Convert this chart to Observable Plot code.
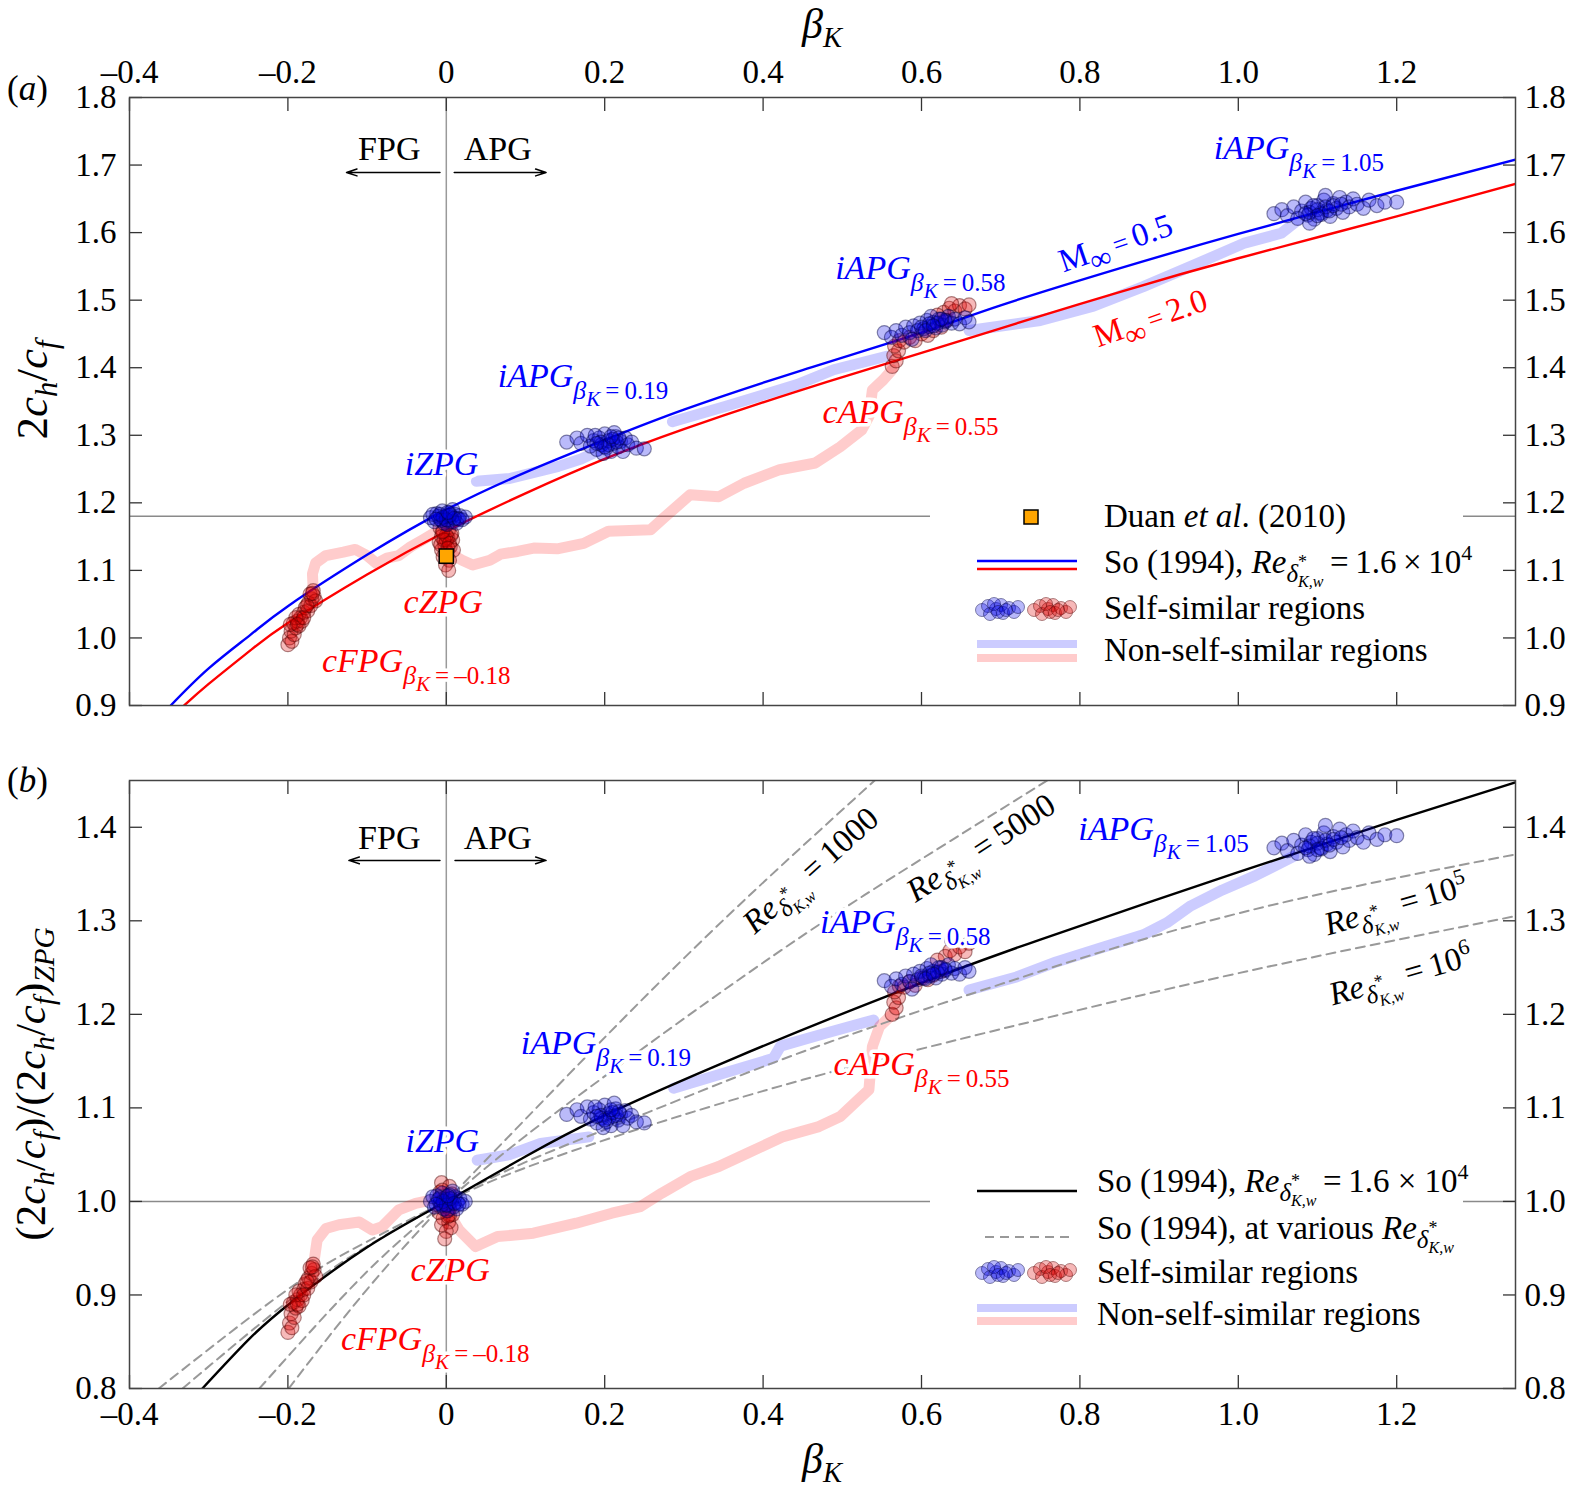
<!DOCTYPE html>
<html>
<head>
<meta charset="utf-8">
<script src="https://cdn.jsdelivr.net/npm/d3@7"></script>
<script src="https://cdn.jsdelivr.net/npm/@observablehq/plot@0.6"></script>
<style>
body { margin: 0; background: #fff; }
#fig { position: relative; width: 1570px; height: 1491px; font-family: "Liberation Serif", serif; color: #000; background: #fff; }
.abs { position: absolute; white-space: nowrap; line-height: 1; }
.abs sub { font-size: 0.68em; vertical-align: -0.32em; }
.rot { transform: translate(-50%, -50%) rotate(-90deg); }
.ctr { transform: translate(-50%, -50%); }
</style>
</head>
<body>
<div id="fig">
  <div id="chartA" class="abs" style="left:0;top:0"></div>
  <div id="chartB" class="abs" style="left:0;top:745px"></div>
  <div class="abs" style="left:7px;top:71px;font-size:35px">(<i>a</i>)</div>
  <div class="abs" style="left:7px;top:763px;font-size:35px">(<i>b</i>)</div>
  <div class="abs ctr" style="left:822px;top:28px;font-size:42px"><i>β</i><sub><i>K</i></sub></div>
  <div class="abs ctr" style="left:822px;top:1463px;font-size:42px"><i>β</i><sub><i>K</i></sub></div>
  <div class="abs rot" style="left:36px;top:390px;font-size:45px">2<i>c</i><sub><i>h</i></sub>/<i>c</i><sub><i>f</i></sub></div>
  <div class="abs rot" style="left:34px;top:1084px;font-size:43px">(2<i>c</i><sub><i>h</i></sub>/<i>c</i><sub><i>f</i></sub>)/(2<i>c</i><sub><i>h</i></sub>/<i>c</i><sub><i>f</i></sub>)<sub><i>ZPG</i></sub></div>
</div>
<script>
// ---------- axes ----------
const xTicks = [-0.4, -0.2, 0, 0.2, 0.4, 0.6, 0.8, 1.0, 1.2]
const yTicksA = [0.9, 1.0, 1.1, 1.2, 1.3, 1.4, 1.5, 1.6, 1.7, 1.8]
const yTicksB = [0.8, 0.9, 1.0, 1.1, 1.2, 1.3, 1.4]
const zpgA = 1.18
const zpgB = 1.0

// ---------- So (1994) curves ----------
const soBlueA = [[-0.348,0.90],[-0.3,0.955],[-0.247,1.005],[-0.2,1.047],[-0.1,1.123],[0,1.19],[0.1,1.245],[0.2,1.293],[0.3,1.338],[0.443,1.394],[0.6,1.452],[0.699,1.492],[0.85,1.547],[1.0,1.598],[1.2,1.662],[1.35,1.708]]
const soRedA = [[-0.331,0.90],[-0.3,0.932],[-0.247,0.982],[-0.2,1.022],[-0.1,1.094],[0,1.158],[0.1,1.214],[0.2,1.265],[0.3,1.309],[0.443,1.365],[0.6,1.422],[0.699,1.458],[0.85,1.512],[1.0,1.562],[1.2,1.624],[1.35,1.672]]
const soBlackB = [[-0.308,0.8],[-0.25,0.852],[-0.196,0.892],[-0.1,0.951],[0,1.0],[0.1,1.048],[0.2,1.092],[0.363,1.153],[0.555,1.219],[0.75,1.28],[1.0,1.352],[1.2,1.408],[1.35,1.448]]
const soRe1000B = [[-0.199,0.8],[-0.1,0.906],[0,1.0],[0.1,1.088],[0.23,1.201],[0.38,1.325],[0.55,1.457]]
const soRe5000B = [[-0.236,0.8],[-0.1,0.925],[0,1.0],[0.1,1.07],[0.283,1.185],[0.455,1.287],[0.6,1.366],[0.77,1.456]]
const soRe1e5B = [[-0.333,0.8],[-0.2,0.893],[-0.1,0.952],[0,1.0],[0.1,1.042],[0.254,1.095],[0.45,1.16],[0.699,1.232],[1.0,1.308],[1.35,1.371]]
const soRe1e6B = [[-0.363,0.8],[-0.2,0.906],[-0.1,0.957],[0,1.0],[0.1,1.036],[0.245,1.078],[0.45,1.13],[0.699,1.184],[1.0,1.244],[1.35,1.305]]

// ---------- self-similar clusters (panel a) ----------
const iZpgA = [[-0.02,1.178],[-0.015,1.172],[-0.012,1.184],[-0.008,1.176],[-0.005,1.188],[-0.003,1.17],[0,1.18],[0.002,1.174],[0.004,1.185],[0.006,1.178],[0.009,1.172],[0.011,1.183],[0.014,1.177],[0.017,1.181],[0.02,1.175],[-0.01,1.18],[0.001,1.168],[0.008,1.19],[-0.017,1.183],[0.013,1.17],[0.024,1.179],[-0.006,1.174],[0.003,1.181],[-0.004,1.179],[0.0,1.175],[0.005,1.182],[-0.008,1.183],[0.01,1.177],[-0.013,1.176],[0.016,1.176],[0.002,1.186]]
const cZpgA = [[-0.008,1.163],[-0.004,1.158],[0.003,1.16],[0.007,1.155],[-0.006,1.15],[0.002,1.148],[0.008,1.145],[-0.009,1.142],[-0.002,1.138],[0.005,1.135],[-0.006,1.13],[0.001,1.127],[0.009,1.13],[-0.004,1.12],[0.004,1.115],[-0.001,1.108],[0.003,1.1],[-0.007,1.138],[0.006,1.152],[0,1.145],[0,1.152],[-0.003,1.145],[0.004,1.14],[-0.005,1.157],[0.002,1.133]]
const cFpgA = [[-0.2,0.99],[-0.198,1.0],[-0.195,0.995],[-0.196,1.01],[-0.192,1.005],[-0.19,1.015],[-0.193,1.022],[-0.188,1.025],[-0.186,1.018],[-0.184,1.03],[-0.182,1.025],[-0.186,1.035],[-0.18,1.038],[-0.178,1.045],[-0.175,1.04],[-0.174,1.052],[-0.171,1.048],[-0.17,1.058],[-0.167,1.062],[-0.168,1.07],[-0.165,1.055],[-0.172,1.065],[-0.19,1.03],[-0.197,1.02],[-0.188,1.02],[-0.18,1.03],[-0.176,1.048],[-0.169,1.066]]
const iApg019A = [[0.152,1.29],[0.165,1.296],[0.17,1.288],[0.178,1.3],[0.182,1.284],[0.186,1.292],[0.19,1.279],[0.193,1.296],[0.196,1.286],[0.2,1.302],[0.202,1.281],[0.205,1.292],[0.208,1.276],[0.211,1.288],[0.214,1.298],[0.217,1.283],[0.22,1.291],[0.223,1.276],[0.226,1.296],[0.229,1.286],[0.234,1.29],[0.24,1.281],[0.25,1.28],[0.198,1.273],[0.188,1.3],[0.212,1.304],[0.195,1.29],[0.205,1.286],[0.21,1.294],[0.2,1.283],[0.215,1.29],[0.19,1.288],[0.218,1.296],[0.208,1.298]]
const iApg058A = [[0.553,1.452],[0.562,1.445],[0.568,1.455],[0.575,1.448],[0.58,1.46],[0.585,1.452],[0.59,1.462],[0.595,1.455],[0.598,1.466],[0.603,1.458],[0.607,1.47],[0.61,1.461],[0.615,1.467],[0.618,1.459],[0.622,1.472],[0.626,1.463],[0.63,1.468],[0.634,1.476],[0.638,1.466],[0.642,1.472],[0.648,1.465],[0.655,1.474],[0.66,1.468],[0.588,1.442],[0.612,1.476],[0.6,1.46],[0.61,1.465],[0.62,1.466],[0.63,1.47],[0.605,1.455],[0.625,1.472],[0.615,1.462]]
const cApg055A = [[0.563,1.402],[0.568,1.41],[0.565,1.418],[0.571,1.425],[0.566,1.432],[0.572,1.44],[0.578,1.438],[0.585,1.445],[0.592,1.44],[0.6,1.45],[0.608,1.448],[0.615,1.455],[0.625,1.46],[0.632,1.47],[0.628,1.482],[0.635,1.488],[0.642,1.484],[0.648,1.492],[0.655,1.487],[0.66,1.493],[0.638,1.495],[0.62,1.478]]
const iApg105A = [[1.045,1.628],[1.055,1.634],[1.062,1.625],[1.07,1.638],[1.075,1.621],[1.08,1.632],[1.085,1.645],[1.088,1.626],[1.092,1.636],[1.096,1.62],[1.1,1.64],[1.104,1.629],[1.108,1.648],[1.112,1.633],[1.116,1.624],[1.12,1.643],[1.124,1.636],[1.128,1.652],[1.132,1.63],[1.136,1.645],[1.14,1.638],[1.145,1.65],[1.15,1.642],[1.158,1.636],[1.165,1.648],[1.175,1.64],[1.185,1.645],[1.2,1.645],[1.09,1.614],[1.11,1.655],[1.09,1.63],[1.1,1.634],[1.105,1.627],[1.11,1.638],[1.095,1.64],[1.115,1.632],[1.1,1.625],[1.12,1.64],[1.13,1.642],[1.085,1.628]]
const duanA = [[0.0, 1.121]]

// ---------- self-similar clusters (panel b) ----------
const iZpgB = [[-0.02,1.0],[-0.015,0.994],[-0.012,1.006],[-0.008,0.998],[-0.005,1.009],[-0.003,0.992],[0,1.002],[0.002,0.996],[0.004,1.007],[0.006,1.0],[0.009,0.994],[0.011,1.005],[0.014,0.999],[0.017,1.003],[0.02,0.997],[-0.01,1.002],[0.001,0.99],[0.008,1.011],[-0.017,1.005],[0.013,0.992],[0.024,1.0],[-0.006,0.996],[-0.004,1.0],[0.0,0.996],[0.005,1.003],[-0.008,1.004],[0.01,0.998],[-0.013,0.997],[0.016,0.997],[0.002,1.006]]
const cZpgB = [[-0.006,1.02],[0.004,1.016],[-0.008,1.01],[0.007,1.008],[-0.003,1.003],[0.005,0.998],[-0.007,0.994],[0.002,0.99],[0.008,0.986],[-0.004,0.982],[0.003,0.978],[-0.006,0.975],[0.006,0.972],[0,0.968],[-0.002,0.96],[0.004,0.985],[-0.009,0.988],[0,1.005],[-0.003,0.998],[0.004,0.992],[-0.005,1.012],[0.002,0.984]]
const cFpgB = [[-0.2,0.86],[-0.198,0.87],[-0.195,0.865],[-0.196,0.88],[-0.192,0.876],[-0.19,0.886],[-0.193,0.892],[-0.188,0.895],[-0.186,0.888],[-0.184,0.9],[-0.182,0.894],[-0.186,0.904],[-0.18,0.906],[-0.178,0.912],[-0.175,0.907],[-0.174,0.918],[-0.171,0.914],[-0.17,0.923],[-0.167,0.927],[-0.168,0.933],[-0.165,0.92],[-0.172,0.929],[-0.19,0.9],[-0.197,0.89],[-0.188,0.89],[-0.18,0.9],[-0.176,0.915],[-0.169,0.93]]
const iApg019B = [[0.152,1.093],[0.165,1.098],[0.17,1.091],[0.178,1.101],[0.182,1.088],[0.186,1.095],[0.19,1.084],[0.193,1.098],[0.196,1.089],[0.2,1.103],[0.202,1.085],[0.205,1.094],[0.208,1.081],[0.211,1.091],[0.214,1.099],[0.217,1.087],[0.22,1.093],[0.223,1.081],[0.226,1.097],[0.229,1.089],[0.234,1.092],[0.24,1.085],[0.25,1.084],[0.198,1.079],[0.188,1.101],[0.212,1.105],[0.195,1.092],[0.205,1.089],[0.21,1.095],[0.2,1.087],[0.215,1.092],[0.19,1.091],[0.218,1.096],[0.208,1.098]]
const iApg058B = [[0.553,1.236],[0.562,1.23],[0.568,1.238],[0.575,1.232],[0.58,1.241],[0.585,1.235],[0.59,1.243],[0.595,1.237],[0.598,1.246],[0.603,1.239],[0.607,1.249],[0.61,1.241],[0.615,1.246],[0.618,1.239],[0.622,1.25],[0.626,1.243],[0.63,1.247],[0.634,1.253],[0.638,1.244],[0.642,1.249],[0.648,1.243],[0.655,1.25],[0.66,1.246],[0.588,1.227],[0.612,1.253],[0.6,1.241],[0.61,1.244],[0.62,1.245],[0.63,1.248],[0.605,1.238],[0.625,1.25],[0.615,1.243]]
const cApg055B = [[0.563,1.2],[0.568,1.207],[0.565,1.213],[0.571,1.218],[0.566,1.224],[0.572,1.23],[0.578,1.229],[0.585,1.235],[0.592,1.231],[0.6,1.239],[0.608,1.237],[0.615,1.242],[0.625,1.246],[0.63,1.262],[0.636,1.268],[0.642,1.264],[0.648,1.272],[0.655,1.267],[0.66,1.276],[0.638,1.279],[0.62,1.258]]
const iApg105B = [[1.045,1.378],[1.055,1.383],[1.062,1.375],[1.07,1.386],[1.075,1.372],[1.08,1.381],[1.085,1.392],[1.088,1.376],[1.092,1.384],[1.096,1.371],[1.1,1.388],[1.104,1.378],[1.108,1.394],[1.112,1.382],[1.116,1.374],[1.12,1.39],[1.124,1.384],[1.128,1.398],[1.132,1.379],[1.136,1.392],[1.14,1.386],[1.145,1.396],[1.15,1.389],[1.158,1.384],[1.165,1.394],[1.175,1.387],[1.185,1.392],[1.2,1.391],[1.09,1.369],[1.11,1.402],[1.09,1.38],[1.1,1.383],[1.105,1.377],[1.11,1.386],[1.095,1.388],[1.115,1.381],[1.1,1.376],[1.12,1.387],[1.13,1.389],[1.085,1.378]]

// ---------- non-self-similar trajectories ----------
const iTrajA1 = [[0.038,1.232],[0.08,1.236],[0.1416,1.254],[0.17,1.265],[0.196,1.279]]
const iTrajA2 = [[0.2855,1.32],[0.353,1.343],[0.443,1.375],[0.489,1.397],[0.556,1.417]]
const iTrajA3 = [[0.66,1.455],[0.75,1.47],[0.817,1.491],[0.88,1.52],[0.94,1.55],[1.0065,1.584],[1.054,1.599],[1.076,1.619]]
const cTrajA1 = [[-0.168,1.07],[-0.169,1.095],[-0.165,1.111],[-0.152,1.122],[-0.13,1.127],[-0.115,1.131],[-0.1,1.122],[-0.088,1.11],[-0.075,1.118],[-0.06,1.122],[-0.045,1.135],[-0.03,1.145],[-0.0156,1.155],[-0.005,1.16]]
const cTrajA2 = [[0.005,1.125],[0.02,1.115],[0.0333,1.108],[0.055,1.115],[0.0685,1.124],[0.09,1.128],[0.1105,1.133],[0.14,1.132],[0.1736,1.14],[0.2047,1.158],[0.2578,1.16],[0.2767,1.18],[0.308,1.212],[0.344,1.209],[0.376,1.229],[0.421,1.249],[0.466,1.259],[0.4975,1.283],[0.5246,1.308],[0.5336,1.328],[0.538,1.367],[0.5517,1.382],[0.563,1.397]]
const iTrajB1 = [[0.039,1.044],[0.08,1.05],[0.119,1.062],[0.18,1.069]]
const iTrajB2 = [[0.287,1.121],[0.35,1.137],[0.413,1.153],[0.422,1.166],[0.48,1.18],[0.5395,1.194]]
const iTrajB3 = [[0.66,1.226],[0.72,1.24],[0.77,1.256],[0.83,1.272],[0.88,1.285],[0.91,1.298],[0.94,1.316],[0.98,1.333],[1.021,1.348],[1.07,1.369]]
const cTrajB1 = [[-0.168,0.93],[-0.163,0.959],[-0.152,0.971],[-0.1355,0.975],[-0.11,0.978],[-0.0934,0.9695],[-0.081,0.973],[-0.06,0.991],[-0.0387,0.998],[-0.0177,1.0016]]
const cTrajB2 = [[0.005,0.985],[0.016,0.9695],[0.037,0.9517],[0.0647,0.9624],[0.11,0.966],[0.164,0.9767],[0.209,0.9874],[0.245,0.9945],[0.272,1.0088],[0.308,1.0265],[0.344,1.0373],[0.38,1.0516],[0.4255,1.0693],[0.4705,1.08],[0.4975,1.0907],[0.52,1.1086],[0.5336,1.1193],[0.538,1.1656],[0.547,1.187],[0.565,1.2014]]

// ---------- annotations ----------
const BLUE = "#0000ff", RED = "#ff0000"
const subLabelsA = [
  {k: "iAPG105", x: 0.969, y: 1.725, c: BLUE},
  {k: "iAPG058", x: 0.491, y: 1.547, c: BLUE},
  {k: "iAPG019", x: 0.065, y: 1.388, c: BLUE},
  {k: "cAPG055", x: 0.475, y: 1.334, c: RED},
  {k: "cFPG018", x: -0.157, y: 0.965, c: RED}
]
const plainLabelsA = [
  {k: "iZPG", x: -0.006, y: 1.258, c: BLUE},
  {k: "cZPG", x: -0.004, y: 1.053, c: RED}
]
const machLabelsA = [
  {k: "M05", x: 0.845, y: 1.584, c: BLUE},
  {k: "M20", x: 0.889, y: 1.473, c: RED}
]
const subLabelsB = [
  {k: "iAPG105", x: 0.798, y: 1.398, c: BLUE},
  {k: "iAPG058", x: 0.472, y: 1.299, c: BLUE},
  {k: "iAPG019", x: 0.094, y: 1.169, c: BLUE},
  {k: "cAPG055", x: 0.489, y: 1.147, c: RED},
  {k: "cFPG018", x: -0.133, y: 0.853, c: RED}
]
const plainLabelsB = [
  {k: "iZPG", x: -0.005, y: 1.065, c: BLUE},
  {k: "cZPG", x: 0.005, y: 0.9265, c: RED}
]
const reLabelsB = [
  {k: "Re1000", x: 0.46, y: 1.354, r: -42},
  {k: "Re5000", x: 0.675, y: 1.378, r: -33},
  {k: "Re1e5", x: 1.199, y: 1.317, r: -16},
  {k: "Re1e6", x: 1.205, y: 1.242, r: -16}
]
const gradTextA = [{k: "FPG", x: -0.072, y: 1.723}, {k: "APG", x: 0.065, y: 1.723}]
const gradArrowsA = [{x1: -0.008, x2: -0.126, y: 1.689}, {x1: 0.01, x2: 0.126, y: 1.689}]
const gradTextB = [{k: "FPG", x: -0.072, y: 1.3885}, {k: "APG", x: 0.065, y: 1.3885}]
const gradArrowsB = [{x1: -0.008, x2: -0.123, y: 1.3646}, {x1: 0.011, x2: 0.126, y: 1.3646}]

// rich text (subscripts) put into Plot's text nodes afterwards
const bk = v => `<tspan font-size="26" dy="12">β</tspan><tspan font-size="21" dy="7">K</tspan><tspan font-style="normal" font-size="25" dy="-7">\u2009=\u2009${v}</tspan>`
const RE = `<tspan font-style="italic">Re</tspan><tspan font-style="italic" font-size="25" dy="9">δ</tspan><tspan font-size="18" dy="-14">*</tspan><tspan font-style="italic" font-size="16" dx="-9" dy="19">K,w</tspan>`
const RICH = {
  iAPG105: "iAPG" + bk("1.05"),
  iAPG058: "iAPG" + bk("0.58"),
  iAPG019: "iAPG" + bk("0.19"),
  cAPG055: "cAPG" + bk("0.55"),
  cFPG018: "cFPG" + bk("\u20130.18"),
  M05: `M<tspan font-size="30" dy="9">∞</tspan><tspan font-size="27" dy="-9">\u2009=\u2009</tspan>0.5`,
  M20: `M<tspan font-size="30" dy="9">∞</tspan><tspan font-size="27" dy="-9">\u2009=\u2009</tspan>2.0`,
  Re1000: RE + `<tspan dy="-14">\u2009=\u20091000</tspan>`,
  Re5000: RE + `<tspan dy="-14">\u2009=\u20095000</tspan>`,
  Re1e5: RE + `<tspan dy="-14">\u2009=\u200910</tspan><tspan font-size="22" dy="-13">5</tspan>`,
  Re1e6: RE + `<tspan dy="-14">\u2009=\u200910</tspan><tspan font-size="22" dy="-13">6</tspan>`
}

const fmtX = d => d === 0 ? "0" : (d < 0 ? "\u2013" : "") + d3.format(".1f")(Math.abs(d))
const fmtY = d3.format(".1f")
const X = d => d[0], Y = d => d[1]

function frameAxes(yTicks, labelSide) {
  const tk = {stroke: "#333", strokeWidth: 1.3, fill: "none", label: null, tickSize: 13}
  return [
    Plot.axisX({...tk, anchor: "top", ticks: xTicks, dy: 13}),
    Plot.axisX({...tk, anchor: "bottom", ticks: xTicks, dy: -13}),
    Plot.axisY({...tk, anchor: "left", ticks: yTicks, dx: 13}),
    Plot.axisY({...tk, anchor: "right", ticks: yTicks, dx: -13}),
    Plot.axisX({anchor: labelSide, ticks: xTicks, tickSize: 0, tickPadding: labelSide === "top" ? 15 : 13, tickFormat: fmtX, label: null, fontSize: 33}),
    Plot.axisY({anchor: "left", ticks: yTicks, tickSize: 0, tickPadding: 13, tickFormat: fmtY, label: null, fontSize: 33}),
    Plot.axisY({anchor: "right", ticks: yTicks, tickSize: 0, tickPadding: 9, tickFormat: fmtY, label: null, fontSize: 33}),
    Plot.frame({stroke: "#444", strokeWidth: 1.5})
  ]
}

const traj = (data, color) => Plot.line(data, {x: X, y: Y, stroke: color, strokeOpacity: 0.2, strokeWidth: 11, strokeLinejoin: "round", clip: true})
const cloud = (data, color, edge) => Plot.dot(data, {x: X, y: Y, r: 7, fill: color, fillOpacity: 0.27, stroke: edge, strokeOpacity: 0.45, strokeWidth: 1.2})
const curve = (data, color, extra = {}) => Plot.line(data, {x: X, y: Y, stroke: color, strokeWidth: 2.4, curve: "natural", clip: true, ...extra})
const halo = {stroke: "white", strokeWidth: 7}

function enrich(svg) {
  svg.querySelectorAll("text").forEach(t => {
    const m = RICH[t.textContent]
    if (m) t.innerHTML = m
  })
  return svg
}

const common = {
  width: 1570,
  marginLeft: 129, marginRight: 55,
  x: {domain: [-0.4, 1.35]},
  color: {type: "identity"},
  style: {fontFamily: "'Liberation Serif', serif", fontSize: "33px", background: "transparent", color: "#000"}
}

const chartA = Plot.plot({
  ...common,
  height: 745, marginTop: 97, marginBottom: 40,
  y: {domain: [0.9, 1.8]},
  marks: [
    Plot.ruleX([0], {stroke: "#9a9a9a", strokeWidth: 1.5}),
    Plot.ruleY([zpgA], {stroke: "#8a8a8a", strokeWidth: 1.5}),
    traj(iTrajA1, BLUE), traj(iTrajA2, BLUE), traj(iTrajA3, BLUE),
    traj(cTrajA1, RED), traj(cTrajA2, RED),
    curve(soRedA, RED),
    curve(soBlueA, BLUE),
    cloud(cFpgA, "#e00000", "#500000"),
    cloud(cZpgA, "#e00000", "#500000"),
    cloud(cApg055A, "#e00000", "#500000"),
    cloud(iZpgA, "#0000ee", "#000040"),
    cloud(iApg019A, "#0000ee", "#000040"),
    cloud(iApg058A, "#0000ee", "#000040"),
    cloud(iApg105A, "#0000ee", "#000040"),
    Plot.dot(duanA, {x: X, y: Y, symbol: "square", r: 8, fill: "#ffa500", stroke: "#000", strokeWidth: 1.5}),
    Plot.arrow(gradArrowsA, {x1: "x1", x2: "x2", y1: "y", y2: "y", stroke: "#000", strokeWidth: 1.5, headLength: 11, headAngle: 36}),
    Plot.text(gradTextA, {x: "x", y: "y", text: "k", fontSize: 34, fill: "#000"}),
    Plot.text(plainLabelsA, {x: "x", y: "y", text: "k", fill: "c", fontSize: 34, fontStyle: "italic", ...halo}),
    Plot.text(subLabelsA, {x: "x", y: "y", text: "k", fill: "c", fontSize: 34, fontStyle: "italic", textAnchor: "start", ...halo}),
    Plot.text(machLabelsA, {x: "x", y: "y", text: "k", fill: "c", fontSize: 33, rotate: -19}),
    ...frameAxes(yTicksA, "top")
  ]
})

const chartB = Plot.plot({
  ...common,
  height: 746, marginTop: 35, marginBottom: 103,
  y: {domain: [0.8, 1.45]},
  marks: [
    Plot.ruleX([0], {stroke: "#9a9a9a", strokeWidth: 1.5}),
    Plot.ruleY([zpgB], {stroke: "#8a8a8a", strokeWidth: 1.5}),
    traj(iTrajB1, BLUE), traj(iTrajB2, BLUE), traj(iTrajB3, BLUE),
    traj(cTrajB1, RED), traj(cTrajB2, RED),
    curve(soRe1000B, "#999", {strokeDasharray: "9,6", strokeWidth: 2}),
    curve(soRe5000B, "#999", {strokeDasharray: "9,6", strokeWidth: 2}),
    curve(soRe1e5B, "#999", {strokeDasharray: "9,6", strokeWidth: 2}),
    curve(soRe1e6B, "#999", {strokeDasharray: "9,6", strokeWidth: 2}),
    curve(soBlackB, "#000"),
    cloud(cFpgB, "#e00000", "#500000"),
    cloud(cZpgB, "#e00000", "#500000"),
    cloud(cApg055B, "#e00000", "#500000"),
    cloud(iZpgB, "#0000ee", "#000040"),
    cloud(iApg019B, "#0000ee", "#000040"),
    cloud(iApg058B, "#0000ee", "#000040"),
    cloud(iApg105B, "#0000ee", "#000040"),
    Plot.arrow(gradArrowsB, {x1: "x1", x2: "x2", y1: "y", y2: "y", stroke: "#000", strokeWidth: 1.5, headLength: 11, headAngle: 36}),
    Plot.text(gradTextB, {x: "x", y: "y", text: "k", fontSize: 34, fill: "#000"}),
    Plot.text(plainLabelsB, {x: "x", y: "y", text: "k", fill: "c", fontSize: 34, fontStyle: "italic", ...halo}),
    Plot.text(subLabelsB, {x: "x", y: "y", text: "k", fill: "c", fontSize: 34, fontStyle: "italic", textAnchor: "start", ...halo}),
    Plot.text(reLabelsB, {x: "x", y: "y", text: "k", rotate: "r", fill: "#000", fontSize: 33}),
    ...frameAxes(yTicksB, "bottom")
  ]
})

d3.select("#chartA").append(() => enrich(chartA))
d3.select("#chartB").append(() => enrich(chartB))

// ---------- legends (drawn over the plots, white box hides the reference line) ----------
const blobBlue = [[52,118],[58,114],[60,122],[66,117],[71,113],[73,121],[79,116],[84,120],[88,115],[64,112],[68,120],[76,118]]
const blobRed = [[104,118],[110,114],[112,122],[118,117],[123,113],[125,121],[131,116],[136,120],[140,115],[116,112],[120,120],[128,118]]
const dots = (pts, dy, fill, edge) => pts.map(([x, y]) =>
  `<circle cx="${x}" cy="${y + dy}" r="6.5" fill="${fill}" fill-opacity="0.28" stroke="${edge}" stroke-opacity="0.45" stroke-width="1"/>`).join("")

const legendA = `<svg width="620" height="180" style="position:absolute;left:930px;top:492px" font-family="Liberation Serif, serif" font-size="33">
  <rect width="533" height="180" fill="#fff"/>
  <rect x="94" y="18" width="14" height="14" fill="#ffa500" stroke="#000" stroke-width="1.5"/>
  <text x="174" y="35">Duan <tspan font-style="italic">et al</tspan>. (2010)</text>
  <line x1="47" x2="147" y1="69" y2="69" stroke="${BLUE}" stroke-width="2.4"/>
  <line x1="47" x2="147" y1="77" y2="77" stroke="${RED}" stroke-width="2.4"/>
  <text x="174" y="81">So (1994), ${RE}<tspan dy="-14">\u2009=\u20091.6\u2009×\u200910</tspan><tspan font-size="22" dy="-13">4</tspan></text>
  ${dots(blobBlue, 0, "#0000ee", "#000040")}${dots(blobRed, 0, "#e00000", "#500000")}
  <text x="174" y="127">Self-similar regions</text>
  <line x1="47" x2="147" y1="152" y2="152" stroke="${BLUE}" stroke-opacity="0.2" stroke-width="8"/>
  <line x1="47" x2="147" y1="166" y2="166" stroke="${RED}" stroke-opacity="0.2" stroke-width="8"/>
  <text x="174" y="169">Non-self-similar regions</text>
</svg>`

const legendB = `<svg width="620" height="185" style="position:absolute;left:930px;top:1160px" font-family="Liberation Serif, serif" font-size="33">
  <rect width="533" height="185" fill="#fff"/>
  <line x1="47" x2="147" y1="31" y2="31" stroke="#000" stroke-width="2.4"/>
  <text x="167" y="32">So (1994), ${RE}<tspan dy="-14">\u2009=\u20091.6 × 10</tspan><tspan font-size="22" dy="-13">4</tspan></text>
  <line x1="55" x2="143" y1="77" y2="77" stroke="#999" stroke-width="2" stroke-dasharray="9,6"/>
  <text x="167" y="79">So (1994), at various ${RE}</text>
  ${dots(blobBlue, -5, "#0000ee", "#000040")}${dots(blobRed, -5, "#e00000", "#500000")}
  <text x="167" y="123">Self-similar regions</text>
  <line x1="47" x2="147" y1="148" y2="148" stroke="${BLUE}" stroke-opacity="0.2" stroke-width="8"/>
  <line x1="47" x2="147" y1="161" y2="161" stroke="${RED}" stroke-opacity="0.2" stroke-width="8"/>
  <text x="167" y="165">Non-self-similar regions</text>
</svg>`

document.getElementById("fig").insertAdjacentHTML("beforeend", legendA + legendB)
</script>
</body>
</html>
